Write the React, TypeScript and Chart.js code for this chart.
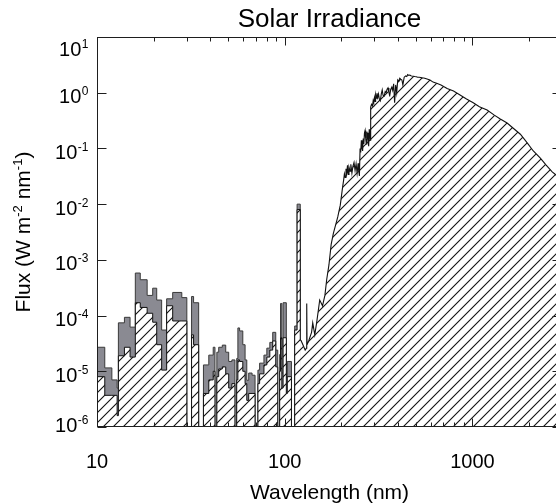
import React, { useEffect, useRef } from 'react';
import { Chart, registerables } from 'chart.js';

Chart.register(...registerables);

// EUV region: binned spectrum (bin start wavelength, nm). Last entry is the closing edge.
const euvBinStart = [
  10, 11, 12, 12.8, 13, 14, 15, 16, 17, 18.5, 19.8, 20.8, 22.1, 23.5, 25.3, 28.3, 30.1, 31.9, 32.7, 34.8,
  36.9, 39.4, 41.6, 42.5, 43.5, 44.5, 46.5, 48.5, 50.3, 52.3, 54.3, 55.5, 56.3, 57.5, 59.8, 61.5, 62.8, 64.3, 67, 69.5,
  72, 73.5, 77.5, 80.3, 83.3, 86.3, 89.6, 91.8, 94, 95, 96.5, 98, 102, 103.2, 108.6, 113, 116.4, 121, 122,
];
// upper envelope (grey band)
const euvUpper = [
  4.0e-5, 2.7e-5, 1.15e-5, 7.0e-6, 5.0e-6, 7.4e-5, 9.3e-5, 6.2e-5, 5.8e-4, 4.4e-4, 2.3e-4, 3.1e-4, 1.9e-4, 5.5e-5, 2.0e-4, 2.6e-4, 2.1e-4, 1e-9, 2.2e-4, 1.7e-4,
  1e-9, 1.3e-5, 1.95e-5, 2.7e-5, 1e-9, 2.2e-5, 2.7e-5, 2.95e-5, 2.2e-5, 1.5e-5, 1.6e-5, 1e-9, 1.7e-5, 6.0e-5, 5.3e-5, 3.0e-5, 1.6e-5, 6.9e-6, 9.3e-6, 8.5e-6,
  1e-9, 1.05e-5, 1.4e-5, 1.95e-5, 2.6e-5, 3.3e-5, 5.0e-5, 2.4e-5, 1e-9, 2.0e-5, 1.65e-4, 9.3e-6, 1.7e-4, 7.6e-6, 1.5e-5, 1e-9, 6.5e-5, 1.0e-2, 1e-9,
];
// hatched spectrum in the EUV bins
const euvLower = [
  1.1e-5, 8.0e-6, 3.7e-6, 3.7e-6, 1.6e-6, 1.9e-5, 2.7e-5, 1.8e-5, 1.7e-4, 1.4e-4, 1.1e-4, 7.6e-5, 3.0e-5, 1.05e-5, 1.5e-4, 8.0e-5, 8.0e-5, 1e-9, 4.5e-5, 3.0e-5,
  1e-9, 4.0e-6, 7.0e-6, 1.0e-5, 1e-9, 8.0e-6, 1.1e-5, 1.2e-5, 9.0e-6, 5.0e-6, 6.0e-6, 1e-9, 7.0e-6, 1.6e-5, 1.5e-5, 1.0e-5, 6.0e-6, 3.0e-6, 4.0e-6, 4.0e-6,
  1e-9, 6.0e-6, 9.0e-6, 1.3e-5, 1.8e-5, 2.4e-5, 3.5e-5, 1.2e-5, 1e-9, 1.0e-5, 4.0e-5, 5.0e-6, 4.0e-5, 4.0e-6, 8.0e-6, 1e-9, 5.5e-5, 8.0e-3, 3.6e-5,
];

// UV - IR continuum (nm, W m-2 nm-1)
const contWave = [
  122, 125, 128.5, 130.5, 131, 131.5, 134.6, 139, 141, 144.6, 148.6, 153.6, 159, 163.7, 167.3, 172, 176.8, 181.6, 186.6, 191.7,
  197.7, 203.3, 206, 208, 210, 212, 214, 216, 218, 220, 223, 225, 228, 231, 234, 237, 240, 243, 246, 248,
  250, 252, 254, 256, 258, 260, 262, 264, 266, 268, 270, 272, 274, 276, 278, 280, 282, 284, 285.5, 287,
  290, 293.5, 296, 298, 300.7, 303, 305, 307.8, 310, 313, 316, 319, 323, 327, 330.7, 334, 338.5, 343, 347, 351,
  355, 359, 363, 367, 372, 376, 380.5, 385, 390, 395, 400, 405, 410, 415, 421, 426, 433, 441, 447, 452,
  458, 464, 470, 475, 484, 493, 502, 511, 520, 530, 540, 551, 562, 573, 594, 617, 650, 680, 733, 793,
  859, 930, 1010, 1089, 1197, 1302, 1400, 1530, 1650, 1800, 1958, 2110, 2300, 2470, 2660, 2800, 3000,
];
const contFlux = [
  3.6e-5, 3.0e-5, 2.4e-5, 2.6e-5, 1.65e-4, 3.0e-5, 3.6e-5, 5.0e-5, 7.4e-5, 4.5e-5, 8.3e-5, 1.9e-4, 1.5e-4, 2.3e-4, 4.4e-4, 8.1e-4, 1.9e-3, 3.0e-3, 4.2e-3, 5.9e-3,
  9.6e-3, 2.0e-2, 2.7e-2, 3.5e-2, 3.0e-2, 4.3e-2, 3.6e-2, 5.0e-2, 3.4e-2, 4.6e-2, 3.9e-2, 5.2e-2, 3.6e-2, 4.8e-2, 5.6e-2, 4.0e-2, 5.3e-2, 3.6e-2, 5.4e-2, 3.9e-2,
  3.2e-2, 0.10, 0.085, 0.14, 0.11, 0.09, 0.15, 0.12, 0.19, 0.21, 0.15, 0.12, 0.2, 0.16, 0.19, 0.11, 0.22, 0.17, 0.14, 0.55,
  0.62, 0.58, 0.72, 0.66, 0.82, 0.7, 0.92, 0.8, 0.98, 0.82, 0.95, 0.78, 0.72, 0.95, 1.12, 0.9, 0.87, 1.05, 1.0, 1.15,
  1.22, 1.02, 0.91, 1.15, 1.26, 1.1, 1.44, 0.66, 1.38, 1.0, 1.69, 1.6, 1.82, 1.75, 1.69, 1.38, 1.9, 2.0, 1.95, 2.12,
  2.05, 2.08, 2.02, 2.0, 1.98, 1.95, 1.93, 1.9, 1.89, 1.87, 1.85, 1.84, 1.8, 1.76, 1.69, 1.55, 1.46, 1.38, 1.19, 1.07,
  0.91, 0.77, 0.66, 0.56, 0.49, 0.40, 0.34, 0.286, 0.23, 0.18, 0.126, 0.090, 0.067, 0.050, 0.038, 0.033, 0.024,
];

const xTickValues = [10, 100, 1000];
const xTickLabels = ['10', '100', '1000'];
const xMinorTicks = [
  10, 20, 30, 40, 50, 60, 70, 80, 90, 100, 200, 300, 400, 500, 600, 700, 800, 900, 1000, 2000, 3000,
];
const yTickExponents = [1, 0, -1, -2, -3, -4, -5, -6];

const FONT = '"Liberation Sans", Arial, Helvetica, sans-serif';

function makeHatch(): CanvasPattern | string {
  const c = document.createElement('canvas');
  const s = 10;
  c.width = s;
  c.height = s;
  const g = c.getContext('2d');
  if (!g) return '#fff';
  g.fillStyle = '#ffffff';
  g.fillRect(0, 0, s, s);
  g.strokeStyle = '#111111';
  g.lineWidth = 1.1;
  g.beginPath();
  g.moveTo(-1, s + 1);
  g.lineTo(s + 1, -1);
  g.moveTo(-1, 1);
  g.lineTo(1, -1);
  g.moveTo(s - 1, s + 1);
  g.lineTo(s + 1, s - 1);
  g.stroke();
  return g.createPattern(c, 'repeat') || '#fff';
}

const decorPlugin = {
  id: 'decor',
  afterDraw(chart: any) {
    const { ctx, chartArea: a } = chart;
    const xs = chart.scales.x;
    const ys = chart.scales.y;
    ctx.save();
    ctx.strokeStyle = '#1e1e1e';
    ctx.lineWidth = 1;
    const L = Math.round(a.left) + 0.5;
    const R = Math.round(a.right) - 0.5;
    const T = Math.round(a.top) + 0.5;
    const B = Math.round(a.bottom) - 0.5;
    ctx.strokeRect(L, T, R - L, B - T);
    ctx.beginPath();
    for (const v of xMinorTicks) {
      const px = Math.round(xs.getPixelForValue(v)) + 0.5;
      const len = xTickValues.includes(v) ? 8 : 4;
      ctx.moveTo(px, B);
      ctx.lineTo(px, B - len);
      ctx.moveTo(px, T);
      ctx.lineTo(px, T + len);
    }
    for (const e of yTickExponents) {
      const py = Math.round(ys.getPixelForValue(Math.pow(10, e))) + 0.5;
      ctx.moveTo(L, py);
      ctx.lineTo(L + 9, py);
      ctx.moveTo(R, py);
      ctx.lineTo(R - 9, py);
    }
    ctx.stroke();

    ctx.fillStyle = '#000';
    ctx.textBaseline = 'alphabetic';

    // x tick labels
    ctx.font = `20px ${FONT}`;
    ctx.textAlign = 'center';
    xTickValues.forEach((v, i) => {
      ctx.fillText(xTickLabels[i], xs.getPixelForValue(v), 468);
    });

    // y tick labels 10^n
    ctx.textAlign = 'left';
    const rightEdge = 88.5;
    for (const e of yTickExponents) {
      const py = ys.getPixelForValue(Math.pow(10, e));
      const base = Math.min(432, Math.max(56, py + 10.5));
      const sup = String(e);
      ctx.font = `12px ${FONT}`;
      const supW = ctx.measureText(sup).width;
      ctx.font = `20px ${FONT}`;
      const baseW = ctx.measureText('10').width;
      const supX = rightEdge - supW;
      ctx.fillText('10', supX - 0.5 - baseW, base);
      ctx.font = `12px ${FONT}`;
      ctx.fillText(sup, supX, base - 8);
    }

    // title
    const cx = (a.left + a.right) / 2;
    ctx.textAlign = 'center';
    ctx.font = `26px ${FONT}`;
    ctx.fillText('Solar Irradiance', cx, 27);

    // x axis title
    ctx.font = `21px ${FONT}`;
    ctx.fillText('Wavelength (nm)', cx, 499);

    // y axis title with superscripts
    const parts: [string, boolean][] = [
      ['Flux (W m', false],
      ['-2', true],
      [' nm', false],
      ['-1', true],
      [')', false],
    ];
    const mainFont = `21px ${FONT}`;
    const supFont = `13px ${FONT}`;
    let total = 0;
    const widths = parts.map(([t, s]) => {
      ctx.font = s ? supFont : mainFont;
      const w = ctx.measureText(t).width;
      total += w;
      return w;
    });
    ctx.translate(30, (a.top + a.bottom) / 2);
    ctx.rotate(-Math.PI / 2);
    ctx.textAlign = 'left';
    let xx = -total / 2;
    parts.forEach(([t, s], i) => {
      ctx.font = s ? supFont : mainFont;
      ctx.fillText(t, xx, s ? -8 : 0);
      xx += widths[i];
    });
    ctx.restore();
  },
};

export default function App() {
  const ref = useRef<HTMLCanvasElement | null>(null);

  useEffect(() => {
    const canvas = ref.current;
    if (!canvas) return;
    const hatch = makeHatch();
    const upperPts = euvBinStart.map((w, i) => ({ x: w, y: euvUpper[i] }));
    const lowerPts = euvBinStart.map((w, i) => ({ x: w, y: euvLower[i] }));
    const contPts = contWave.map((w, i) => ({ x: w, y: contFlux[i] }));

    const chart = new Chart(canvas, {
      type: 'line',
      data: {
        datasets: [
          {
            label: 'Continuum',
            data: contPts,
            borderColor: '#111',
            borderWidth: 1.1,
            backgroundColor: hatch as any,
            fill: 'start',
            pointRadius: 0,
            tension: 0,
            order: 1,
          },
          {
            label: 'EUV',
            data: lowerPts,
            stepped: 'after',
            borderColor: '#111',
            borderWidth: 1,
            backgroundColor: hatch as any,
            fill: 'start',
            pointRadius: 0,
            order: 2,
          },
          {
            label: 'EUV upper',
            data: upperPts,
            stepped: 'after',
            borderColor: '#3a3a3a',
            borderWidth: 1,
            backgroundColor: '#8a8a92',
            fill: 'start',
            pointRadius: 0,
            order: 3,
          },
        ],
      },
      options: {
        animation: false,
        responsive: false,
        maintainAspectRatio: false,
        layout: { padding: { left: 97, top: 37, right: 38, bottom: 77 } },
        scales: {
          x: { type: 'logarithmic', min: 10, max: 3000, display: false, bounds: 'data' },
          y: { type: 'logarithmic', min: 1e-6, max: 10, display: false, bounds: 'data' },
        },
        plugins: {
          legend: { display: false },
          tooltip: { enabled: false },
          title: { display: false },
        },
      },
      plugins: [decorPlugin],
    });
    return () => chart.destroy();
  }, []);

  return (
    <div
      style={{
        position: 'absolute',
        left: 0,
        top: 0,
        width: 556,
        height: 504,
        overflow: 'hidden',
        background: '#fff',
      }}
    >
      <canvas ref={ref} width={600} height={504} style={{ width: 600, height: 504, display: 'block' }} />
    </div>
  );
}
